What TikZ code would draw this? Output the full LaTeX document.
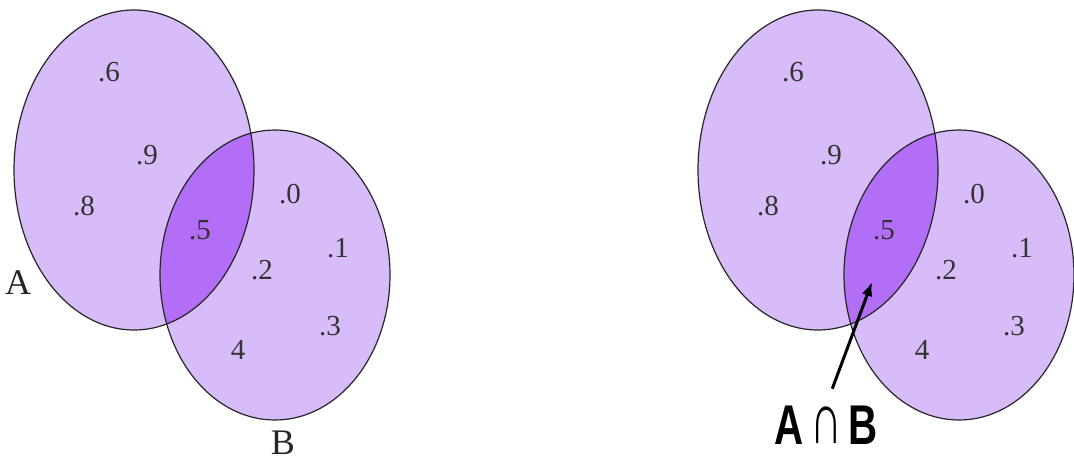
\documentclass[tikz,border=0pt]{standalone}
\usepackage{fontspec}
\setmainfont{Liberation Serif}
\newfontfamily\capfont{Liberation Sans}
\usetikzlibrary{arrows.meta}
\definecolor{setfill}{RGB}{216,188,250}
\definecolor{capfill}{RGB}{178,110,246}
\tikzset{
  % --- sets ------------------------------------------------------------------
  setline/.style={draw=black!85,line width=1.2pt},
  % --- labels ----------------------------------------------------------------
  num/.style={inner sep=0pt,font=\fontsize{29}{30}\selectfont,text=black!80},
  setlab/.style={inner sep=0pt,font=\fontsize{36}{38}\selectfont,text=black!85},
  caplab/.style={inner sep=0pt,font=\capfont\bfseries\fontsize{56}{58}\selectfont},
  ptr/.style={-{Latex[length=14pt,width=11pt]},line width=3pt,shorten <=18pt},
}
\begin{document}
\begin{tikzpicture}[x=1pt,y=-1pt]
  \useasboundingbox (0,0) rectangle (1074,461);

  \foreach \dx/\tag in {0/L,684/R} {
    \begin{scope}[xshift=\dx]
      \fill[setfill] (134,170) ellipse [x radius=120, y radius=160];
      \fill[setfill] (275,275) ellipse [x radius=115, y radius=145];
      \begin{scope}
        \clip (134,170) ellipse [x radius=120, y radius=160];
        \fill[capfill] (275,275) ellipse [x radius=115, y radius=145];
      \end{scope}
      \draw[setline] (134,170) ellipse [x radius=120, y radius=160];
      \draw[setline] (275,275) ellipse [x radius=115, y radius=145];

      \foreach \v/\px/\py in {6/109/72, 9/147/155, 8/84/206, 5/200/230,
                              0/290/194, 1/338/248, 2/262/270, 3/330/326}
        \node[num] (n\v\tag) at (\px,\py) {.\v};
      \node[num] (n4\tag) at (238,350) {4};
    \end{scope}
  }

  \node[setlab] (labA) at (18,283)  {A};
  \node[setlab] (labB) at (283,443) {B};

  \coordinate (tip) at (872,282);
  \node[caplab] (labAB) at (826,425)
    {\scalebox{0.72}[1]{A\,\raisebox{1pt}{\mdseries\scalebox{1.1}[1.3]{∩}}\,B}};
  \draw[ptr] (labAB.north) -- (tip);
\end{tikzpicture}
\end{document}
